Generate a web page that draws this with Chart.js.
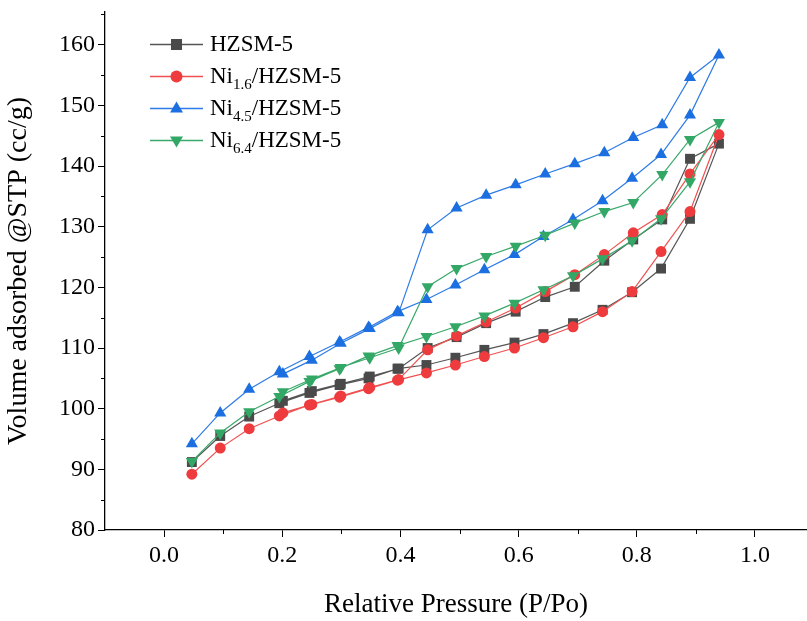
<!DOCTYPE html>
<html>
<head>
<meta charset="utf-8">
<script src="https://cdn.jsdelivr.net/npm/chart.js@4.4.1/dist/chart.umd.min.js"></script>
<style>
  html, body { margin: 0; padding: 0; background: #ffffff; overflow: hidden; }
  #wrap { position: relative; width: 807px; height: 621px; }
  #legend { position: absolute; left: 150px; top: 28px; font-family: 'Liberation Serif', 'Times New Roman', serif; font-size: 23px; color: #000; }
  .row { display: flex; align-items: center; height: 32px; white-space: nowrap; }
  .row svg { margin-right: 7px; flex: none; }
  sub { font-size: 15px; vertical-align: -6px; line-height: 0; }
</style>
</head>
<body>
<div id="wrap">
  <canvas id="c"></canvas>
  <div id="legend"></div>
</div>
<script>
// ---- data ----
const adsPressure = [0.047, 0.095, 0.144, 0.195, 0.246, 0.297, 0.346, 0.395, 0.444, 0.493, 0.542, 0.593, 0.642, 0.692, 0.742, 0.792, 0.841, 0.890, 0.939];
const desPressure = [0.890, 0.843, 0.794, 0.745, 0.695, 0.645, 0.595, 0.545, 0.495, 0.446, 0.397, 0.348, 0.299, 0.250, 0.201];

const hzsmAds   = [91.2, 95.5, 98.7, 100.9, 102.6, 103.9, 105.0, 106.6, 107.2, 108.4, 109.7, 110.9, 112.3, 114.1, 116.3, 119.2, 123.1, 131.3, 143.7];
const hzsmDes   = [141.2, 131.2, 127.9, 124.4, 120.1, 118.4, 116.0, 114.1, 111.8, 110.0, 106.6, 105.3, 104.1, 102.9, 101.3];

const ni16Ads   = [89.2, 93.5, 96.7, 98.8, 100.6, 101.9, 103.3, 104.7, 105.9, 107.2, 108.6, 110.0, 111.7, 113.5, 116.0, 119.3, 125.9, 132.5, 145.2];
const ni16Des   = [138.7, 132.0, 129.0, 125.4, 122.1, 119.3, 116.6, 114.3, 112.0, 109.7, 104.8, 103.5, 102.1, 100.7, 99.3];

const ni45Ads   = [94.2, 99.3, 103.2, 106.1, 108.6, 111.0, 113.4, 116.0, 118.0, 120.4, 122.9, 125.4, 128.4, 131.2, 134.3, 138.0, 141.9, 148.4, 158.3];
const ni45Des   = [154.6, 146.8, 144.7, 142.2, 140.4, 138.7, 136.9, 135.2, 133.1, 129.5, 115.8, 113.2, 110.8, 108.0, 105.7];

const ni64Ads   = [91.3, 96.0, 99.5, 102.0, 104.5, 106.6, 108.7, 110.4, 111.9, 113.5, 115.3, 117.4, 119.6, 121.9, 124.7, 127.7, 131.3, 137.4, 147.2];
const ni64Des   = [144.4, 138.6, 134.0, 132.5, 130.6, 128.6, 126.8, 125.1, 123.1, 120.1, 110.0, 108.4, 106.8, 104.9, 102.8];

const seriesNames = ['HZSM-5', 'Ni<sub>1.6</sub>/HZSM-5', 'Ni<sub>4.5</sub>/HZSM-5', 'Ni<sub>6.4</sub>/HZSM-5'];

const xMajorTicks = [0.0, 0.2, 0.4, 0.6, 0.8, 1.0];
const xMinorTicks = [0.1, 0.3, 0.5, 0.7, 0.9];
const yMajorTicks = [80, 90, 100, 110, 120, 130, 140, 150, 160];
const yMinorTicks = [85, 95, 105, 115, 125, 135, 145, 155, 165];

// ---- styles ----
const styles = [
  { line: '#555555', fill: '#4a4a4a', shape: 'rect', radius: 7, rotation: 0 },
  { line: '#f05050', fill: '#ee3b3d', shape: 'circle', radius: 5.5, rotation: 0 },
  { line: '#2d7be6', fill: '#1b6fe0', shape: 'triangle', radius: 7, rotation: 0 },
  { line: '#3aa86b', fill: '#33a866', shape: 'triangle', radius: 7, rotation: 180 }
];

function loop(ads, des) {
  return adsPressure.map((p, i) => ({ x: p, y: ads[i] }))
    .concat(desPressure.map((p, i) => ({ x: p, y: des[i] })));
}
const seriesData = [loop(hzsmAds, hzsmDes), loop(ni16Ads, ni16Des), loop(ni45Ads, ni45Des), loop(ni64Ads, ni64Des)];

const datasets = seriesData.map((d, i) => ({
  label: seriesNames[i].replace(/<\/?sub>/g, ''),
  data: d,
  showLine: true,
  borderColor: styles[i].line,
  borderWidth: 1.2,
  backgroundColor: styles[i].fill,
  pointBackgroundColor: styles[i].fill,
  pointBorderColor: styles[i].fill,
  pointBorderWidth: 0,
  pointStyle: styles[i].shape,
  pointRadius: styles[i].radius,
  pointRotation: styles[i].rotation,
  tension: 0,
  order: 3 - i
}));

const minorTicksPlugin = {
  id: 'minorTicks',
  afterDraw(chart) {
    const ctx = chart.ctx, xs = chart.scales.x, ys = chart.scales.y, a = chart.chartArea;
    ctx.save();
    ctx.strokeStyle = '#000';
    ctx.lineWidth = 1;
    xMinorTicks.forEach(v => {
      const p = Math.round(xs.getPixelForValue(v)) + 0.5;
      ctx.beginPath(); ctx.moveTo(p, a.bottom); ctx.lineTo(p, a.bottom + 4); ctx.stroke();
    });
    yMinorTicks.forEach(v => {
      const p = Math.round(ys.getPixelForValue(v)) + 0.5;
      if (p < a.top) return;
      ctx.beginPath(); ctx.moveTo(a.left, p); ctx.lineTo(a.left - 4, p); ctx.stroke();
    });
    ctx.restore();
  }
};

const serif = "'Liberation Serif', 'Times New Roman', serif";

new Chart(document.getElementById('c'), {
  type: 'scatter',
  data: { datasets },
  plugins: [minorTicksPlugin],
  options: {
    responsive: true,
    maintainAspectRatio: false,
    animation: false,
    layout: { autoPadding: false, padding: { top: 12, right: 0, bottom: 0, left: 0 } },
    plugins: { legend: { display: false }, tooltip: { enabled: false } },
    scales: {
      x: {
        type: 'linear',
        min: -0.1,
        max: 1.088,
        afterBuildTicks: (s) => { s.ticks = xMajorTicks.map(v => ({ value: v })); },
        afterFit: (s) => { s.height = 91; s.paddingLeft = 0; s.paddingRight = 0; },
        ticks: { color: '#000', padding: 4, font: { family: serif, size: 24 }, callback: (v) => Number(v).toFixed(1) },
        grid: { display: true, drawOnChartArea: false, drawTicks: true, tickLength: 7, tickColor: '#000', tickWidth: 1 },
        border: { display: true, color: '#000', width: 1.3 },
        title: { display: true, text: 'Relative Pressure (P/Po)', color: '#000', font: { family: serif, size: 27 }, padding: { top: 12, bottom: 0 } }
      },
      y: {
        type: 'linear',
        min: 80,
        max: 165.4,
        afterBuildTicks: (s) => { s.ticks = yMajorTicks.map(v => ({ value: v })); },
        afterFit: (s) => { s.width = 105; s.paddingTop = 0; s.paddingBottom = 0; },
        ticks: { color: '#000', padding: 3, font: { family: serif, size: 24 } },
        grid: { display: true, drawOnChartArea: false, drawTicks: true, tickLength: 7, tickColor: '#000', tickWidth: 1 },
        border: { display: true, color: '#000', width: 1.3 },
        title: { display: true, text: 'Volume adsorbed @STP (cc/g)', color: '#000', font: { family: serif, size: 28 }, padding: { top: 2, bottom: 4 } }
      }
    }
  }
});

// ---- HTML legend (for subscripts) ----
function markerSvg(st) {
  let m = '';
  if (st.shape === 'rect') m = '<rect x="21" y="6" width="11" height="11" fill="' + st.fill + '"/>';
  else if (st.shape === 'circle') m = '<circle cx="26.5" cy="11.5" r="6" fill="' + st.fill + '"/>';
  else if (st.rotation === 0) m = '<polygon points="26.5,4.5 33,15.5 20,15.5" fill="' + st.fill + '"/>';
  else m = '<polygon points="20,7.5 33,7.5 26.5,18.5" fill="' + st.fill + '"/>';
  return '<svg width="53" height="23"><line x1="0" y1="11.5" x2="53" y2="11.5" stroke="' + st.line + '" stroke-width="1.5"/>' + m + '</svg>';
}
document.getElementById('legend').innerHTML = seriesNames.map((n, i) =>
  '<div class="row">' + markerSvg(styles[i]) + '<span>' + n + '</span></div>').join('');
</script>
</body>
</html>
